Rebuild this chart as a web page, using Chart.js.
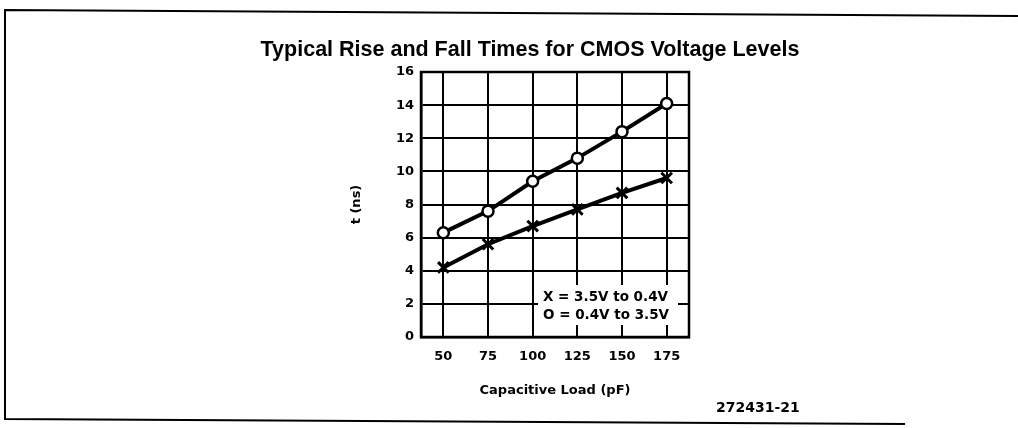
<!DOCTYPE html>
<html>
<head>
<meta charset="utf-8">
<script src="https://cdn.jsdelivr.net/npm/chart.js@4/dist/chart.umd.min.js"></script>
<style>
  html, body { margin: 0; padding: 0; background: #fff; }
  #wrap { width: 1018px; height: 428px; position: relative; }
</style>
</head>
<body>
<div id="wrap"><canvas id="riseFallChart"></canvas></div>
<script>
// Capacitive load (pF)
var loads = [50, 75, 100, 125, 150, 175];
// X = 3.5V to 0.4V (fall)
var fallTimes = [4.2, 5.6, 6.7, 7.7, 8.7, 9.6];
// O = 0.4V to 3.5V (rise)
var riseTimes = [6.3, 7.6, 9.4, 10.8, 12.4, 14.1];
var chartTitle = 'Typical Rise and Fall Times for CMOS Voltage Levels';
var legendLines = ['X = 3.5V to 0.4V', 'O = 0.4V to 3.5V'];
var figureNo = '272431-21';

function toPoints(ys) {
    return loads.map(function(x, i) { return { x: x, y: ys[i] }; });
}

// frame, title, plot box, key box and figure number
// (title drawn here because the built-in one is squeezed to the padded width)
var decorations = {
    id: 'decorations',
    beforeDraw: function(chart) {
        var ctx = chart.ctx;
        ctx.save();
        ctx.strokeStyle = '#000';
        ctx.lineWidth = 2;
        ctx.beginPath();
        ctx.moveTo(1018, 16);
        ctx.lineTo(5, 10);
        ctx.lineTo(5, 419);
        ctx.lineTo(905, 424);
        ctx.stroke();

        ctx.fillStyle = '#000';
        ctx.font = 'bold 21.5px Arial, "Liberation Sans", sans-serif';
        ctx.textAlign = 'center';
        ctx.textBaseline = 'middle';
        ctx.fillText(chartTitle, 530, 50);
        ctx.restore();
    },
    afterDatasetsDraw: function(chart) {
        var ctx = chart.ctx;
        var a = chart.chartArea;
        ctx.save();
        ctx.strokeStyle = '#000';
        ctx.lineWidth = 2.5;
        ctx.strokeRect(a.left, a.top, a.right - a.left, a.bottom - a.top);

        // key box
        ctx.fillStyle = '#fff';
        ctx.fillRect(a.right - 151, a.bottom - 52, 140, 40);
        ctx.fillStyle = '#000';
        ctx.font = 'bold 13.5px "DejaVu Sans"';
        ctx.textAlign = 'left';
        ctx.textBaseline = 'middle';
        ctx.fillText(legendLines[0], a.right - 146, a.bottom - 40);
        ctx.fillText(legendLines[1], a.right - 146, a.bottom - 22);

        ctx.font = 'bold 14px "DejaVu Sans"';
        ctx.fillText(figureNo, 716, 408);
        ctx.restore();
    }
};

var tickFont = { family: '"DejaVu Sans"', size: 13, weight: 'bold' };

var ctx = document.getElementById('riseFallChart').getContext('2d');
var riseFallChart = new Chart(ctx, {
    type: 'line',
    data: {
        datasets: [{
            label: 'O = 0.4V to 3.5V',
            data: toPoints(riseTimes),
            borderColor: '#000',
            borderWidth: 4,
            pointStyle: 'circle',
            pointRadius: 5.5,
            pointBorderWidth: 2.5,
            pointBorderColor: '#000',
            pointBackgroundColor: '#fff'
        }, {
            label: 'X = 3.5V to 0.4V',
            data: toPoints(fallTimes),
            borderColor: '#000',
            borderWidth: 4,
            pointStyle: 'crossRot',
            pointRadius: 7.5,
            pointBorderWidth: 3,
            pointBorderColor: '#000'
        }]
    },
    plugins: [decorations],
    options: {
        responsive: true,
        maintainAspectRatio: false,
        animation: false,
        layout: {
            padding: { left: 340, right: 329, top: 72, bottom: 0 }
        },
        plugins: {
            legend: { display: false },
            tooltip: { enabled: false },
            title: { display: false }
        },
        scales: {
            x: {
                type: 'linear',
                min: 37.5,
                max: 187.5,
                afterBuildTicks: function(scale) {
                    scale.ticks = loads.map(function(v) { return { value: v }; });
                },
                afterFit: function(scale) { scale.height = 91; },
                grid: { color: '#000', lineWidth: 2, drawTicks: false },
                border: { color: '#000', width: 2.5 },
                ticks: { color: '#000', padding: 12, maxRotation: 0, font: tickFont },
                title: {
                    display: true,
                    text: 'Capacitive Load (pF)',
                    color: '#000',
                    font: tickFont,
                    padding: { top: 0, bottom: 30 }
                }
            },
            y: {
                min: 0,
                max: 16,
                afterFit: function(scale) { scale.width = 81; },
                grid: { color: '#000', lineWidth: 2, drawTicks: false },
                border: { color: '#000', width: 2.5 },
                ticks: { stepSize: 2, color: '#000', padding: 7, font: tickFont },
                title: {
                    display: true,
                    text: 't (ns)',
                    color: '#000',
                    font: tickFont,
                    padding: { top: 9, bottom: 0 }
                }
            }
        }
    }
});
</script>
</body>
</html>
